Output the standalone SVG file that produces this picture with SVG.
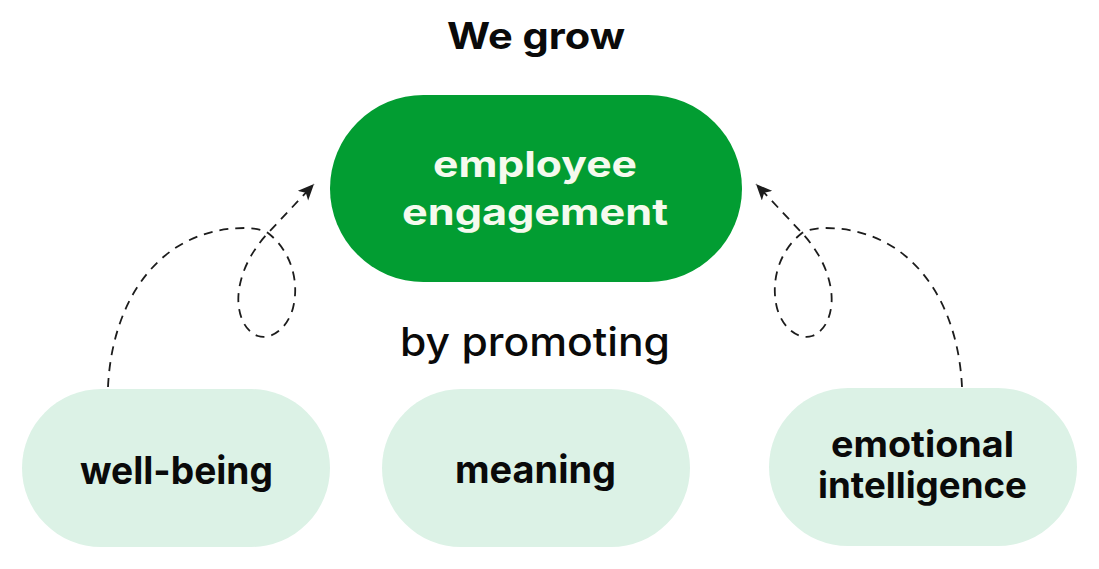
<svg xmlns="http://www.w3.org/2000/svg" width="1099" height="569" viewBox="0 0 1099 569">
  <style>
    .lbl { font-family: Inter, "Noto Sans", "DejaVu Sans", sans-serif; font-weight: 700; font-size: 38px; text-anchor: middle; }
    .two { font-size: 36px; }
    .dark { fill: #0a0a0a; }
    .light { fill: #f5faee; }
    .soft { fill: #dcf2e6; }
    .main { fill: #029d32; }
    .conn { fill: none; stroke: #1c1c1c; stroke-width: 1.8; stroke-dasharray: 9 7; marker-end: url(#arrow); }
  </style>
  <defs>
    <marker id="arrow" markerUnits="userSpaceOnUse" markerWidth="18" markerHeight="15" refX="16" refY="7" orient="auto">
      <path d="M0,0 L16,7 L0,14 L4,7 z" fill="#1c1c1c"/>
    </marker>
  </defs>
  <rect width="1099" height="569" fill="#ffffff"/>
  <text class="lbl dark" x="536" y="49" style="font-size:37px" textLength="178" lengthAdjust="spacingAndGlyphs">We grow</text>
  <text class="lbl dark" x="535" y="356" style="font-weight:500;font-size:39px" textLength="270" lengthAdjust="spacingAndGlyphs">by promoting</text>

  <g id="connectors">
    <path class="conn" d="M108,387 C112,300 160,228 245,228 C255,228 262,230 268,233 C290,250 300,280 293,308 C287,330 270,340 258,336 C243,331 236,310 239,290 C242,268 254,248 268,233 L314,184"/>
    <path class="conn" d="M962,387 C958,300 910,228 825,228 C815,228 808,230 802,233 C780,250 770,280 777,308 C783,330 800,340 812,336 C827,331 834,310 831,290 C828,268 816,248 802,233 L756,184"/>
  </g>

  <g id="node-engagement">
    <rect class="main" x="330" y="95" width="412" height="187" rx="93.5"/>
    <text class="lbl light two" x="535" y="177" textLength="204" lengthAdjust="spacingAndGlyphs">employee</text>
    <text class="lbl light two" x="535" y="225" textLength="266" lengthAdjust="spacingAndGlyphs">engagement</text>
  </g>
  <g id="node-wellbeing">
    <rect class="soft" x="22" y="389" width="308" height="158" rx="79"/>
    <text class="lbl dark" x="176.5" y="484" textLength="193" lengthAdjust="spacingAndGlyphs">well-being</text>
  </g>
  <g id="node-meaning">
    <rect class="soft" x="382" y="389" width="308" height="158" rx="79"/>
    <text class="lbl dark" x="535.5" y="483" textLength="161" lengthAdjust="spacingAndGlyphs">meaning</text>
  </g>
  <g id="node-emotional">
    <rect class="soft" x="769" y="388" width="308" height="158" rx="79"/>
    <text class="lbl dark two" x="922.5" y="457" textLength="183" lengthAdjust="spacingAndGlyphs">emotional</text>
    <text class="lbl dark two" x="922.5" y="498" textLength="209" lengthAdjust="spacingAndGlyphs">intelligence</text>
  </g>
</svg>
